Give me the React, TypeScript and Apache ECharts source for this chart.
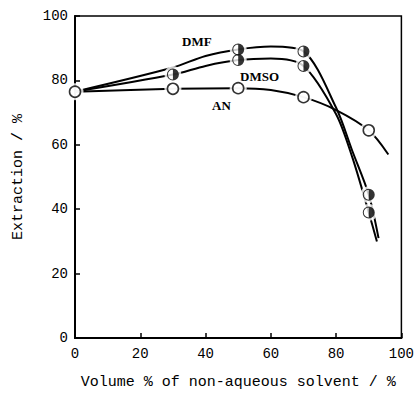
import React, { useEffect, useRef } from "react";
import * as echarts from "echarts";

const dmfX = [0, 30, 40, 50, 60, 70, 80, 85, 90, 93];
const dmfY = [76.5, 84, 87.6, 89.6, 90.5, 89.0, 71.5, 58, 44.5, 31];
const dmfMark = [false, false, false, true, false, true, false, false, true, false];

const dmsoX = [0, 30, 40, 50, 60, 70, 80, 85, 90, 92.5];
const dmsoY = [76.5, 81.8, 84.5, 86.3, 86.8, 84.5, 69.5, 56, 39, 30];
const dmsoMark = [false, true, false, true, false, true, false, false, true, false];

const anX = [0, 30, 50, 60, 70, 80, 90, 96];
const anY = [76.5, 77.4, 77.6, 77.0, 74.8, 70.8, 64.5, 57];
const anMark = [true, true, true, false, true, false, true, false];

const xTicks = [0, 20, 40, 60, 80, 100];
const yTicks = [0, 20, 40, 60, 80, 100];

const HALF =
  "path://M10 0A10 10 0 1 1 10 20A10 10 0 1 1 10 0ZM10 1.7A8.3 8.3 0 1 0 10 18.3A8.3 8.3 0 1 0 10 1.7ZM10 0A10 10 0 0 1 10 20Z";

const pairs = (xs: number[], ys: number[]) => xs.map((x, i) => [x, ys[i]]);
const marked = (xs: number[], ys: number[], m: boolean[]) =>
  xs.map((x, i) => [x, ys[i]]).filter((_, i) => m[i]);

export default function App() {
  const ref = useRef<HTMLDivElement>(null);
  useEffect(() => {
    if (!ref.current) return;
    const chart = echarts.init(ref.current, undefined, { renderer: "svg" });
    const lineStyle = { color: "#000", width: 2 };
    const curve = (name: string, xs: number[], ys: number[]) => ({
      name,
      type: "line",
      data: pairs(xs, ys),
      smooth: 0.3,
      showSymbol: false,
      symbol: "none",
      lineStyle,
      z: 2,
    });
    const allHalf = [
      ...marked(dmfX, dmfY, dmfMark),
      ...marked(dmsoX, dmsoY, dmsoMark),
    ];
    const allOpen = marked(anX, anY, anMark);
    const font = "Liberation Mono";
    chart.setOption({
      animation: false,
      grid: {
        left: 75,
        top: 16,
        right: 14,
        bottom: 49,
        show: true,
        borderColor: "#000",
        borderWidth: 1.5,
      },
      xAxis: {
        type: "value",
        min: xTicks[0],
        max: xTicks[xTicks.length - 1],
        interval: 20,
        name: "Volume % of non-aqueous solvent / %",
        nameLocation: "middle",
        nameGap: 37,
        nameTextStyle: { fontFamily: font, fontSize: 15, color: "#000" },
        axisLine: { show: true, lineStyle: { color: "#000", width: 2 } },
        axisTick: { show: true, inside: true, length: 5, lineStyle: { color: "#000", width: 1.5 } },
        axisLabel: { fontFamily: font, fontSize: 14, color: "#000", margin: 9 },
        splitLine: { show: false },
      },
      yAxis: {
        type: "value",
        min: yTicks[0],
        max: yTicks[yTicks.length - 1],
        interval: 20,
        name: "Extraction / %",
        nameLocation: "middle",
        nameRotate: 90,
        nameGap: 49,
        nameTextStyle: { fontFamily: font, fontSize: 15, color: "#000" },
        axisLine: { show: true, lineStyle: { color: "#000", width: 2 } },
        axisTick: { show: true, inside: true, length: 5, lineStyle: { color: "#000", width: 1.5 } },
        axisLabel: { fontFamily: font, fontSize: 14, color: "#000", margin: 7 },
        splitLine: { show: false },
      },
      series: [
        curve("DMF", dmfX, dmfY),
        curve("DMSO", dmsoX, dmsoY),
        curve("AN", anX, anY),
        {
          type: "scatter",
          data: [...allHalf, ...allOpen],
          symbol: "circle",
          symbolSize: 17,
          itemStyle: { color: "#fff" },
          z: 3,
          silent: true,
        },
        {
          type: "scatter",
          data: allHalf,
          symbol: HALF,
          symbolKeepAspect: true,
          symbolSize: 12,
          itemStyle: { color: "#000" },
          z: 4,
        },
        {
          type: "scatter",
          data: allOpen,
          symbol: "circle",
          symbolSize: 11,
          itemStyle: { color: "#fff", borderColor: "#000", borderWidth: 1.6 },
          z: 4,
        },
      ],
      graphic: [
        { type: "text", left: 182, top: 35, style: { text: "DMF", font: "bold 13px 'Liberation Serif'", fill: "#000" } },
        { type: "text", left: 240, top: 70, style: { text: "DMSO", font: "bold 13px 'Liberation Serif'", fill: "#000" } },
        { type: "text", left: 212, top: 99, style: { text: "AN", font: "bold 13px 'Liberation Serif'", fill: "#000" } },
      ],
    });
    return () => chart.dispose();
  }, []);
  return (
    <div
      ref={ref}
      style={{ position: "fixed", left: 0, top: 0, width: 417, height: 395, background: "#fff" }}
    />
  );
}
